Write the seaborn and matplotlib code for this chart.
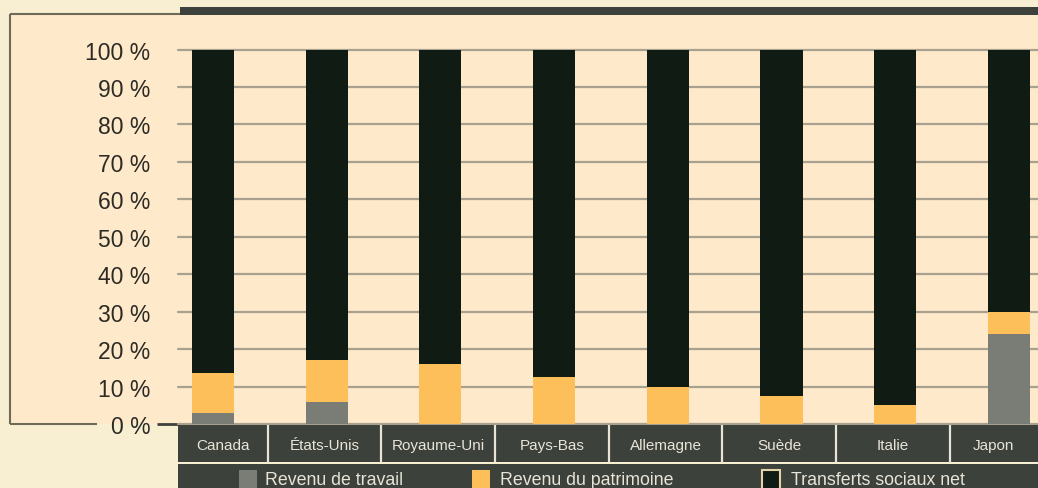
import matplotlib
matplotlib.use("Agg")
import matplotlib.pyplot as plt
from matplotlib.patches import Rectangle
import seaborn as sns
import numpy as np

# Composition of income (share of total, %)
countries = ["Canada", "États-Unis", "Royaume-Uni", "Pays-Bas",
             "Allemagne", "Suède", "Italie", "Japon"]
travail = [3, 6, 0, 0, 0, 0, 0, 24]
patrimoine = [10.5, 11, 16, 12.5, 10, 7.5, 5, 6]
transferts = [86.5, 83, 84, 87.5, 90, 92.5, 95, 70]
series_labels = ["Revenu de travail", "Revenu du patrimoine", "Transferts sociaux net"]
y_ticks = [0, 10, 20, 30, 40, 50, 60, 70, 80, 90, 100]

C_TRAVAIL = "#7A7C76"
C_PATRIMOINE = "#FDBF59"
C_TRANSFERTS = "#0F1B13"
C_DARK = "#3C413B"
C_PEACH = "#FEE9CB"
C_OUTER = "#F8EED2"
C_LIGHT = "#E8E4D8"

sns.set_style("white")
plt.rcParams["font.family"] = ["Liberation Sans", "DejaVu Sans"]

W, H = 1038, 489
fig = plt.figure(figsize=(W / 100, H / 100), dpi=100)
fig.patch.set_facecolor(C_OUTER)

# Background decoration in pixel coordinates
bg = fig.add_axes([0, 0, 1, 1], zorder=0)
bg.set_xlim(0, W)
bg.set_ylim(H, 0)
bg.axis("off")
bg.add_patch(Rectangle((10, 15), W - 10, 410, facecolor=C_PEACH, edgecolor="none"))
bg.add_patch(Rectangle((180, 8), W - 180, 7.5, facecolor=C_DARK, edgecolor="none"))
frame_kw = dict(color="#6E6A58", lw=1.5, solid_capstyle="butt")
bg.plot([9.5, 9.5], [15, 425], **frame_kw)
bg.plot([9.5, 180], [15.2, 15.2], **frame_kw)
bg.plot([9.5, 97], [425, 425], **frame_kw)
bg.plot([157, 182], [425, 425], color="#3C413B", lw=2, solid_capstyle="butt")

# Legend strip
bg.add_patch(Rectangle((178, 465), W - 178, 30, facecolor=C_DARK, edgecolor="none"))
legend_items = [(239, 265, C_TRAVAIL, "none"),
                (472, 500, C_PATRIMOINE, "none"),
                (762, 791, C_TRANSFERTS, "#E5D3A8")]
for (sx, tx, col, ec), lab in zip(legend_items, series_labels):
    bg.add_patch(Rectangle((sx, 471), 18, 20, facecolor=col, edgecolor=ec, lw=1.5))
    bg.text(tx, 485, lab, color=C_LIGHT, fontsize=12.8, va="baseline", ha="left")

# Main stacked bar axes
x0 = -0.308
x1 = 7.256
ax = fig.add_axes([178 / W, (H - 425) / H, (W - 178) / W, (425 - 50.5) / H], zorder=2)
ax.patch.set_alpha(0)

cum1 = np.array(travail, dtype=float)
cum2 = cum1 + np.array(patrimoine)
cum3 = cum2 + np.array(transferts)

bar_kw = dict(width=0.37, saturation=1, edgecolor="none", linewidth=0, ax=ax, zorder=3)
sns.barplot(x=countries, y=cum3, color=C_TRANSFERTS, **bar_kw)
sns.barplot(x=countries, y=cum2, color=C_PATRIMOINE, **bar_kw)
sns.barplot(x=countries, y=cum1, color=C_TRAVAIL, **bar_kw)

ax.set_xlim(x0, x1)
ax.set_ylim(0, 100)
ax.set_yticks(y_ticks)
ax.set_yticklabels([f"{v} %" for v in y_ticks], fontsize=16.5, color="#2B2B24")
ax.tick_params(axis="y", length=0, pad=20)
ax.set_xticks([])
ax.set_xlabel("")
ax.set_ylabel("")
ax.grid(axis="y", color="#A9A18F", lw=1.6, zorder=1)
ax.grid(axis="x", visible=False)
ax.set_axisbelow(True)
for gl in ax.get_ygridlines():
    gl.set_clip_on(False)
for s in ax.spines.values():
    s.set_visible(False)

# Category label boxes
cax = fig.add_axes([178 / W, (H - 463) / H, (W - 178) / W, 37 / H], zorder=2)
cax.set_facecolor(C_DARK)
cax.set_xlim(x0, x1)
cax.set_ylim(0, 1)
cax.set_xticks([])
cax.set_yticks([])
for s in cax.spines.values():
    s.set_visible(False)
dividers = [i + 0.48 for i in range(len(countries) - 1)]
for d in dividers:
    cax.axvline(d, color=C_LIGHT, lw=1.6)
edges = [x0] + dividers + [x1]
for i, name in enumerate(countries):
    cx = (edges[i] + edges[i + 1]) / 2
    cax.text(cx, 0.47, name, ha="center", va="center", fontsize=11, color=C_LIGHT)

fig.savefig("out.png", dpi=100, facecolor=fig.get_facecolor())
